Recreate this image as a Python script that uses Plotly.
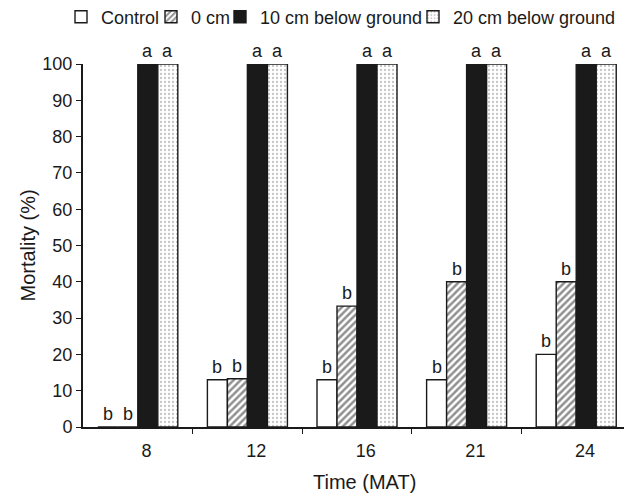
import plotly.graph_objects as go

times = ["8", "12", "16", "21", "24"]
series_names = ["Control", "0 cm", "10 cm below ground", "20 cm below ground"]
control = [0, 13, 13, 13, 20]
cm0 = [0, 13.3, 33.3, 40, 40]
cm10 = [100, 100, 100, 100, 100]
cm20 = [100, 100, 100, 100, 100]
letters_control = ["b", "b", "b", "b", "b"]
letters_cm0 = ["b", "b", "b", "b", "b"]
letters_cm10 = ["a", "a", "a", "a", "a"]
letters_cm20 = ["a", "a", "a", "a", "a"]

FONT = "Arial, Liberation Sans, sans-serif"
INK = "#1a1a1a"
values = [control, cm0, cm10, cm20]
letters = [letters_control, letters_cm0, letters_cm10, letters_cm20]
styles = [
    dict(color="white", pattern=None),
    dict(color="white", pattern=dict(shape="/", fgcolor="#222222", bgcolor="white", size=5, solidity=0.5)),
    dict(color=INK, pattern=None),
    dict(color="white", pattern=dict(shape=".", fgcolor="#8a8a8a", bgcolor="white", size=4, solidity=0.25)),
]
legend_ids = ["legend", "legend2", "legend3", "legend4"]
legend_text_px = [101, 191, 260, 453]

fig = go.Figure()
for name, vals, st, lg in zip(series_names, values, styles, legend_ids):
    marker = dict(color=st["color"], line=dict(color=INK, width=1.4))
    if st["pattern"]:
        marker["pattern"] = st["pattern"]
    fig.add_trace(go.Bar(x=list(range(len(times))), y=vals, name=name, marker=marker, legend=lg))

n = len(series_names)
bargap = 0.27
bw = (1 - bargap) / n
for k, (vals, labs) in enumerate(zip(values, letters)):
    off = -(1 - bargap) / 2 + bw * (k + 0.5)
    for i, (v, t) in enumerate(zip(vals, labs)):
        fig.add_annotation(x=i + off, y=v, text=t, showarrow=False, xref="x", yref="y",
                           yanchor="bottom", yshift=1, font=dict(family=FONT, size=18, color=INK))

W, H = 624, 499
ML, MR, MT, MB = 83, 0, 64, 72
pw = W - ML - MR
ph = H - MT - MB

# axis titles
fig.add_annotation(text="Time (MAT)", xref="paper", yref="paper", x=(364 - ML) / pw, y=-(482 - (H - MB)) / ph,
                   xanchor="center", yanchor="middle", showarrow=False, font=dict(family=FONT, size=20, color=INK))
fig.add_annotation(text="Mortality (%)", xref="paper", yref="paper", x=(27 - ML) / pw, y=0.5,
                   xanchor="center", yanchor="middle", textangle=-90, showarrow=False,
                   font=dict(family=FONT, size=20, color=INK))

layout_legends = {}
for lg, tx in zip(legend_ids, legend_text_px):
    layout_legends[lg] = dict(orientation="h", xref="container", yref="container",
                              x=(tx - 40) / W, y=1 - 17 / H, xanchor="left", yanchor="middle",
                              font=dict(family=FONT, size=18, color=INK), itemwidth=30,
                              bgcolor="rgba(0,0,0,0)", borderwidth=0)

fig.update_layout(
    width=W, height=H,
    margin=dict(l=ML, r=MR, t=MT, b=MB, autoexpand=False),
    paper_bgcolor="white", plot_bgcolor="white",
    barmode="group", bargap=bargap, bargroupgap=0,
    font=dict(family=FONT, size=18, color=INK),
    showlegend=True,
    xaxis=dict(
        range=[-0.5, 4.436], tickmode="array", tickvals=[0.08, 1.08, 2.08, 3.08, 4.08], ticktext=times,
        ticks="", showline=True, linecolor=INK, linewidth=2, showgrid=False, zeroline=False,
        tickfont=dict(size=18), ticklabelstandoff=6, automargin=False,
        minor=dict(tickvals=[0.5, 1.5, 2.5, 3.5], ticks="outside", ticklen=5, tickcolor=INK, tickwidth=1),
    ),
    yaxis=dict(
        range=[0, 100], tickvals=list(range(0, 101, 10)), ticks="outside", ticklen=5,
        tickcolor=INK, showline=True, linecolor=INK, linewidth=2, showgrid=False,
        zeroline=False, tickfont=dict(size=18), automargin=False,
    ),
    **layout_legends,
)

fig.write_html("out.html", config={"displayModeBar": False},
               post_script="document.body.style.margin='0';document.body.style.overflow='hidden';")
